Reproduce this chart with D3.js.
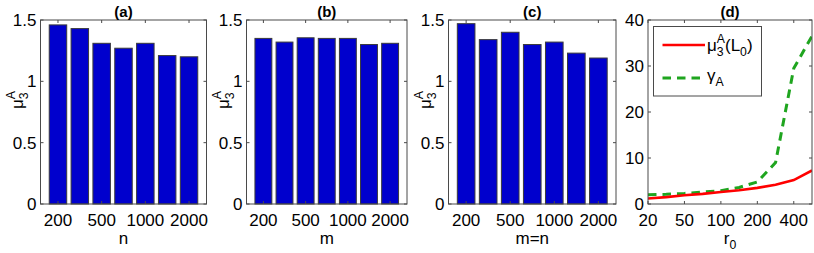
<!DOCTYPE html>
<html><head><meta charset="utf-8">
<script src="https://cdn.jsdelivr.net/npm/d3@7"></script>
<style>body{margin:0;background:#fff}svg{display:block}text{font-family:"Liberation Sans",Arial,Helvetica,sans-serif;fill:#000}</style>
</head><body>
<svg id="c" width="814" height="253"></svg>
<script>
// ---- data ----
const categories = [200, 300, 500, 700, 1000, 1500, 2000];
const barTickLabels = ["200", "500", "1000", "2000"];
const barTickIdx = [1, 3, 5, 7];
const seriesA = [1.46, 1.43, 1.31, 1.27, 1.31, 1.21, 1.20];
const seriesB = [1.35, 1.32, 1.355, 1.35, 1.35, 1.30, 1.31];
const seriesC = [1.47, 1.34, 1.40, 1.30, 1.32, 1.23, 1.19];
const barYTicks = [0, 0.5, 1, 1.5];
const barYTickLabels = ["0", "0.5", "1", "1.5"];
const r0 = [20, 30, 50, 70, 100, 150, 200, 300, 400, 500];
const r0TickIdx = [1, 3, 5, 7, 9];
const r0TickLabels = ["20", "50", "100", "200", "400"];
const muL0 = [1.2, 1.5, 1.9, 2.2, 2.6, 3.0, 3.5, 4.2, 5.2, 7.3];
const gammaA = [2.0, 2.1, 2.3, 2.6, 2.9, 3.6, 4.8, 9.0, 29.5, 36.5];
const dYTicks = [0, 10, 20, 30, 40];

const svg = d3.select("#c");
const TOP = 20, BOT = 204, FS = 17;
const AX = "#4a4a4a";

function rich(g, x, y, parts, size, anchor) {
  const grp = g.append("g");
  let cx = 0;
  parts.forEach(p => {
    const [t, kind, t2] = p;
    if (kind === "n") {
      const e = grp.append("text").attr("x", cx).attr("y", 0).attr("font-size", size).text(t);
      cx += e.node().getComputedTextLength();
    } else if (kind === "sub") {
      const e = grp.append("text").attr("x", cx).attr("y", size * 0.32).attr("font-size", size * 0.72).text(t);
      cx += e.node().getComputedTextLength();
    } else if (kind === "sup") {
      const e = grp.append("text").attr("x", cx).attr("y", -size * 0.42).attr("font-size", size * 0.72).text(t);
      cx += e.node().getComputedTextLength();
    } else if (kind === "subsup") {
      const a = grp.append("text").attr("x", cx).attr("y", size * 0.32).attr("font-size", size * 0.72).text(t);
      const b = grp.append("text").attr("x", cx).attr("y", -size * 0.45).attr("font-size", size * 0.72).text(t2);
      cx += Math.max(a.node().getComputedTextLength(), b.node().getComputedTextLength());
    }
  });
  let off = 0;
  if (anchor === "middle") off = -cx / 2;
  grp.attr("transform", `translate(${x + off},${y})`);
  return grp;
}

function frame(g, x0, x1, xs, ys, xt, yt) {
  g.append("rect").attr("x", x0).attr("y", TOP).attr("width", x1 - x0).attr("height", BOT - TOP)
    .attr("fill", "none").attr("stroke", AX).attr("stroke-width", 1);
  const tl = 3;
  xt.forEach(v => {
    const px = xs(v);
    g.append("line").attr("x1", px).attr("x2", px).attr("y1", BOT).attr("y2", BOT - tl).attr("stroke", AX);
    g.append("line").attr("x1", px).attr("x2", px).attr("y1", TOP).attr("y2", TOP + tl).attr("stroke", AX);
  });
  yt.forEach(v => {
    const py = ys(v);
    g.append("line").attr("x1", x0).attr("x2", x0 + tl).attr("y1", py).attr("y2", py).attr("stroke", AX);
    g.append("line").attr("x1", x1).attr("x2", x1 - tl).attr("y1", py).attr("y2", py).attr("stroke", AX);
  });
}

function barPanel(x0, x1, vals, title, xlabelParts) {
  const g = svg.append("g");
  const xs = d3.scaleLinear().domain([0.2, 7.8]).range([x0, x1]);
  const ys = d3.scaleLinear().domain([0, 1.5]).range([BOT, TOP]);
  const bw = (xs(1.8) - xs(1));
  g.selectAll("rect.bar").data(vals).enter().append("rect").attr("class", "bar")
    .attr("x", (d, i) => xs(i + 1) - bw / 2).attr("width", bw)
    .attr("y", d => ys(d)).attr("height", d => ys(0) - ys(d))
    .attr("fill", "#0000cd").attr("stroke", "#3a3a3a").attr("stroke-width", 1);
  frame(g, x0, x1, xs, ys, barTickIdx, barYTicks);
  barYTicks.forEach((v, i) => {
    g.append("text").attr("x", x0 - 4).attr("y", ys(v) + 6).attr("text-anchor", "end")
      .attr("font-size", FS).text(barYTickLabels[i]);
  });
  barTickIdx.forEach((v, i) => {
    g.append("text").attr("x", xs(v)).attr("y", 226).attr("text-anchor", "middle")
      .attr("font-size", FS).text(barTickLabels[i]);
  });
  g.append("text").attr("x", (x0 + x1) / 2).attr("y", 17).attr("text-anchor", "middle")
    .attr("font-size", 15).attr("font-weight", "bold").text(title);
  rich(g, (x0 + x1) / 2, 244, xlabelParts, FS, "middle");
  const yl = g.append("g").attr("transform", `translate(${x0 - 18},100) rotate(-90)`);
  rich(yl, 0, 0, [["μ", "n"], ["3", "subsup", "A"]], FS, "middle");
}

barPanel(40.5, 206.5, seriesA, "(a)", [["n", "n"]]);
barPanel(246.5, 407, seriesB, "(b)", [["m", "n"]]);
barPanel(448.5, 616, seriesC, "(c)", [["m=n", "n"]]);

(function () {
  const x0 = 648, x1 = 812;
  const g = svg.append("g");
  const xs = d3.scaleLinear().domain([1, 10]).range([x0, x1]);
  const ys = d3.scaleLinear().domain([0, 40]).range([BOT, TOP]);
  g.append("clipPath").attr("id", "cd").append("rect").attr("x", x0).attr("y", TOP).attr("width", x1 - x0).attr("height", BOT - TOP);
  const line = d3.line().x((d, i) => xs(i + 1)).y(d => ys(d));
  g.append("path").attr("d", line(gammaA)).attr("fill", "none").attr("stroke", "#1fa51f")
    .attr("stroke-width", 3).attr("stroke-dasharray", "8.5,6").attr("clip-path", "url(#cd)");
  g.append("path").attr("d", line(muL0)).attr("fill", "none").attr("stroke", "#ff0000")
    .attr("stroke-width", 2.6).attr("clip-path", "url(#cd)");
  frame(g, x0, x1, xs, ys, r0TickIdx, dYTicks);
  dYTicks.forEach(v => {
    g.append("text").attr("x", x0 - 4).attr("y", ys(v) + 6).attr("text-anchor", "end")
      .attr("font-size", FS).text(String(v));
  });
  r0TickIdx.forEach((v, i) => {
    g.append("text").attr("x", xs(v)).attr("y", 226).attr("text-anchor", "middle")
      .attr("font-size", FS).text(r0TickLabels[i]);
  });
  g.append("text").attr("x", (x0 + x1) / 2).attr("y", 17).attr("text-anchor", "middle")
    .attr("font-size", 15).attr("font-weight", "bold").text("(d)");
  rich(g, (x0 + x1) / 2, 244, [["r", "n"], ["0", "sub"]], FS, "middle");
  const lg = g.append("g");
  lg.append("rect").attr("x", 653.5).attr("y", 26.5).attr("width", 108).attr("height", 69.5)
    .attr("fill", "#fff").attr("stroke", AX).attr("stroke-width", 1);
  lg.append("line").attr("x1", 662.5).attr("x2", 705).attr("y1", 45).attr("y2", 45)
    .attr("stroke", "#ff0000").attr("stroke-width", 2.6);
  lg.append("line").attr("x1", 662.5).attr("x2", 705).attr("y1", 78).attr("y2", 78)
    .attr("stroke", "#1fa51f").attr("stroke-width", 3).attr("stroke-dasharray", "8.5,6");
  rich(lg, 707, 51, [["μ", "n"], ["3", "subsup", "A"], ["(L", "n"], ["0", "sub"], [")", "n"]], FS);
  rich(lg, 707, 81, [["γ", "n"], ["A", "sub"]], FS);
})();
</script>
</body></html>
